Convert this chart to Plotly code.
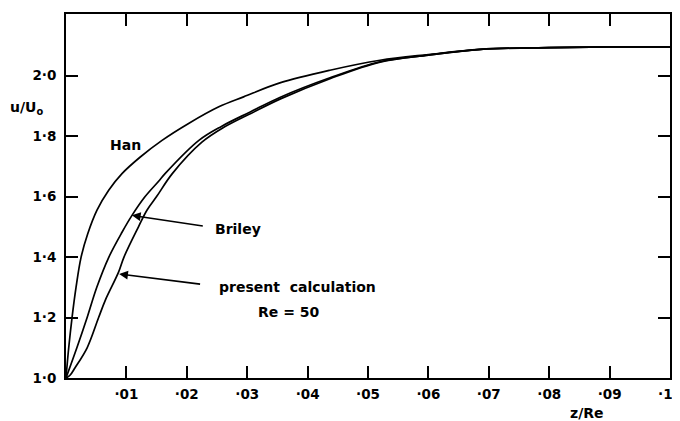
import plotly.graph_objects as go

# ---- data ----
han_x = [0, 0.00045, 0.0010, 0.00166, 0.0025, 0.0036, 0.00513, 0.00707, 0.00927, 0.0123,
         0.0159, 0.0203, 0.0253, 0.0294, 0.0354, 0.0437, 0.052, 0.060, 0.0686, 0.080, 0.090, 0.100]
han_y = [1.0, 1.10, 1.2, 1.30, 1.4, 1.477, 1.555, 1.621, 1.676, 1.731,
         1.786, 1.842, 1.897, 1.93, 1.976, 2.018, 2.051, 2.070, 2.087, 2.093, 2.095, 2.095]

briley_x = [0, 0.0018, 0.0035, 0.0051, 0.0071, 0.0093, 0.0109, 0.0131, 0.0153, 0.0164, 0.0220,
            0.0258, 0.0305, 0.0354, 0.0437, 0.052, 0.060, 0.0686, 0.080, 0.090, 0.100]
briley_y = [1.0, 1.10, 1.2, 1.30, 1.4, 1.483, 1.537, 1.6, 1.65, 1.676, 1.786,
            1.833, 1.88, 1.928, 1.993, 2.046, 2.068, 2.087, 2.093, 2.095, 2.095]

present_x = [0, 0.0007, 0.0015, 0.0035, 0.0054, 0.0065, 0.0087, 0.0096, 0.0120, 0.0134, 0.0150,
             0.0176, 0.0225, 0.0262, 0.0307, 0.0356, 0.0437, 0.052, 0.060, 0.0686, 0.080, 0.090, 0.100]
present_y = [1.0, 1.01, 1.034, 1.10, 1.2, 1.257, 1.35, 1.4, 1.5, 1.555, 1.6,
             1.676, 1.78, 1.83, 1.876, 1.924, 1.99, 2.045, 2.068, 2.087, 2.093, 2.095, 2.095]

x_tickvals = [0.01, 0.02, 0.03, 0.04, 0.05, 0.06, 0.07, 0.08, 0.09, 0.10]
x_ticktext = ["·01", "·02", "·03", "·04", "·05", "·06", "·07", "·08", "·09", "·10"]
y_tickvals = [1.0, 1.2, 1.4, 1.6, 1.8, 2.0]
y_ticktext = ["1·0", "1·2", "1·4", "1·6", "1·8", "2·0"]

FONT = "DejaVu Sans"
line = dict(color="black", width=1.7, shape="spline", smoothing=1.0)

fig = go.Figure()
for xs, ys, nm in [(han_x, han_y, "Han"), (briley_x, briley_y, "Briley"),
                   (present_x, present_y, "present calculation")]:
    fig.add_trace(go.Scatter(x=xs, y=ys, mode="lines", line=line, name=nm,
                             showlegend=False, hoverinfo="skip"))

tickfont = dict(family=FONT, size=13.5, color="black", weight="bold")
axis_common = dict(showgrid=False, zeroline=False, showline=True, linecolor="black",
                   linewidth=2, mirror="ticks", ticks="inside", ticklen=12,
                   tickwidth=1.6, tickcolor="black", automargin=False,
                   tickfont=tickfont, ticklabeloverflow="allow")

fig.update_xaxes(range=[0, 0.1], tickvals=x_tickvals, ticktext=x_ticktext,
                 ticklabelstandoff=3, **axis_common)
fig.update_yaxes(range=[1.0, 2.204], tickvals=y_tickvals, ticktext=y_ticktext,
                 ticklabelstandoff=5, **axis_common)

txt = dict(family=FONT, size=14, color="black", weight="bold")
plot_left, plot_w = 66, 604
C = dict(xanchor="center", yanchor="middle", showarrow=False, font=txt)
ann = [
    dict(x=0.0099, y=1.77, xref="x", yref="y", text="Han", **C),
    dict(x=0.0285, y=1.492, xref="x", yref="y", text="Briley", **C),
    dict(x=0.0384, y=1.30, xref="x", yref="y", text="present  calculation", **C),
    dict(x=0.0368, y=1.217, xref="x", yref="y", text="Re = 50", **C),
    dict(x=0.0109, y=1.538, ax=0.0229, ay=1.502, xref="x", yref="y",
         axref="x", ayref="y", text="", showarrow=True, arrowhead=2,
         arrowsize=1.1, arrowwidth=1.6, arrowcolor="black"),
    dict(x=0.0088, y=1.344, ax=0.02245, ay=1.31, xref="x", yref="y",
         axref="x", ayref="y", text="", showarrow=True, arrowhead=2,
         arrowsize=1.1, arrowwidth=1.6, arrowcolor="black"),
    dict(x=(26 - plot_left) / plot_w, y=1.893, xref="paper", yref="y",
         text="u/U<sub>o</sub>", **C),
    dict(x=0.0863, y=-0.096, xref="x", yref="paper", text="z/Re", **C),
]

# the page body adds an 8px offset; margins compensate so the plot frame
# sits at 66..670 x 14..378 in the window
fig.update_layout(width=680, height=421, margin=dict(l=58, r=18, t=6, b=51),
                  plot_bgcolor="white", paper_bgcolor="white", annotations=ann,
                  font=dict(family=FONT, color="black"))

fig.write_html("out.html")
